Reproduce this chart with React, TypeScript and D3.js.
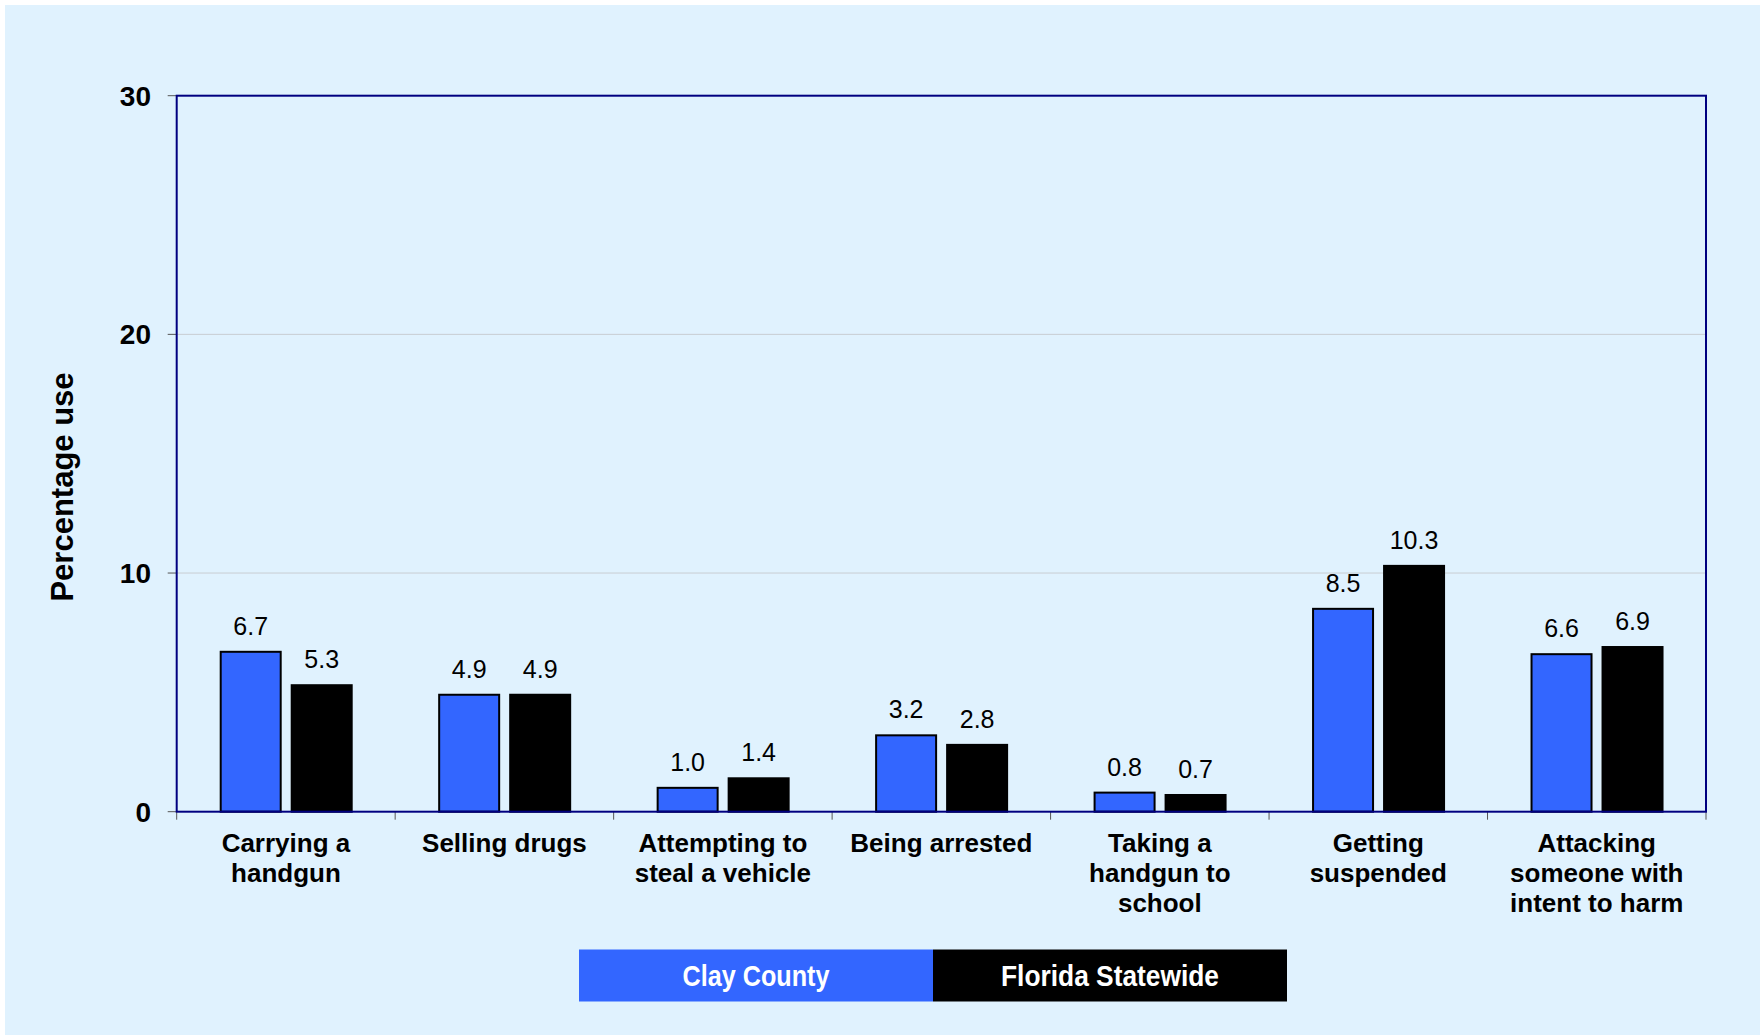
// App.tsx
import React, { useEffect, useRef } from 'react';
import * as d3 from 'd3';

const categories = [
  'Carrying a handgun',
  'Selling drugs',
  'Attempting to steal a vehicle',
  'Being arrested',
  'Taking a handgun to school',
  'Getting suspended',
  'Attacking someone with intent to harm',
];

// wrapped the way the original axis breaks them
const categoryLines = [
  ['Carrying a', 'handgun'],
  ['Selling drugs'],
  ['Attempting to', 'steal a vehicle'],
  ['Being arrested'],
  ['Taking a', 'handgun to', 'school'],
  ['Getting', 'suspended'],
  ['Attacking', 'someone with', 'intent to harm'],
];

const seriesNames = ['Clay County', 'Florida Statewide'];
const clayCounty = [6.7, 4.9, 1.0, 3.2, 0.8, 8.5, 6.6];
const floridaStatewide = [5.3, 4.9, 1.4, 2.8, 0.7, 10.3, 6.9];
const yTicks = [0, 10, 20, 30];

const seriesColors = ['#3366FF', '#000000'];
const FONT = '"Liberation Sans", Arial, sans-serif';

const Chart = () => {
  const ref = useRef<SVGSVGElement>(null);

  useEffect(() => {
    const svg = d3.select(ref.current);
    svg.selectAll('*').remove();

    const width = 1760;
    const height = 1035;
    const left = 176.7, right = 1706, top = 95.7, bottom = 811.7;

    svg.attr('width', width).attr('height', height);

    // background panel
    svg.append('rect')
      .attr('x', 5).attr('y', 5)
      .attr('width', width - 5).attr('height', height - 5)
      .attr('fill', '#E0F2FE');

    const x = d3.scaleBand<string>()
      .domain(categories)
      .range([left, right])
      .paddingInner(0)
      .paddingOuter(0);

    const xSub = d3.scaleBand<string>()
      .domain(seriesNames)
      .range([44, 175])
      .paddingInner(0.155)
      .paddingOuter(0);

    const y = d3.scaleLinear().domain([0, 30]).range([bottom, top]);

    // gridlines
    svg.append('g')
      .selectAll('line')
      .data(yTicks.filter(t => t > 0 && t < 30))
      .enter()
      .append('line')
      .attr('x1', left).attr('x2', right)
      .attr('y1', d => y(d)).attr('y2', d => y(d))
      .attr('stroke', '#C8CDD2')
      .attr('stroke-width', 1);

    // y ticks + labels
    const yAxis = svg.append('g');
    yAxis.selectAll('line')
      .data(yTicks)
      .enter()
      .append('line')
      .attr('x1', left - 9).attr('x2', left)
      .attr('y1', d => y(d)).attr('y2', d => y(d))
      .attr('stroke', '#555')
      .attr('stroke-width', 1);
    yAxis.selectAll('text')
      .data(yTicks)
      .enter()
      .append('text')
      .attr('x', 151)
      .attr('y', d => y(d) + 10)
      .attr('text-anchor', 'end')
      .attr('font-family', FONT)
      .attr('font-weight', 'bold')
      .attr('font-size', 28)
      .attr('fill', '#000')
      .text(d => d);

    // x ticks
    const xTickPos = categories.map(c => x(c) as number).concat([right]);
    svg.append('g')
      .selectAll('line')
      .data(xTickPos)
      .enter()
      .append('line')
      .attr('x1', d => d).attr('x2', d => d)
      .attr('y1', bottom).attr('y2', bottom + 8)
      .attr('stroke', '#555')
      .attr('stroke-width', 1);

    // bars
    const rows = categories.map((c, i) => ({
      category: c,
      values: [clayCounty[i], floridaStatewide[i]],
    }));

    const groups = svg.append('g')
      .selectAll('g')
      .data(rows)
      .enter()
      .append('g')
      .attr('transform', d => `translate(${x(d.category)},0)`);

    groups.selectAll('rect')
      .data(d => d.values.map((v, j) => ({ name: seriesNames[j], value: v, j })))
      .enter()
      .append('rect')
      .attr('x', d => xSub(d.name) as number)
      .attr('y', d => y(d.value))
      .attr('width', xSub.bandwidth())
      .attr('height', d => bottom - y(d.value))
      .attr('fill', d => seriesColors[d.j])
      .attr('stroke', '#000')
      .attr('stroke-width', 2);

    groups.selectAll('text')
      .data(d => d.values.map((v, j) => ({ name: seriesNames[j], value: v })))
      .enter()
      .append('text')
      .attr('x', d => (xSub(d.name) as number) + xSub.bandwidth() / 2)
      .attr('y', d => y(d.value) - 17)
      .attr('text-anchor', 'middle')
      .attr('font-family', FONT)
      .attr('font-size', 25)
      .attr('fill', '#000')
      .text(d => d.value.toFixed(1));

    // plot frame
    svg.append('rect')
      .attr('x', left).attr('y', top)
      .attr('width', right - left).attr('height', bottom - top)
      .attr('fill', 'none')
      .attr('stroke', '#000080')
      .attr('stroke-width', 2);

    // category labels
    const labels = svg.append('g')
      .selectAll('text')
      .data(categories)
      .enter()
      .append('text')
      .attr('x', d => (x(d) as number) + x.bandwidth() / 2)
      .attr('y', 852)
      .attr('text-anchor', 'middle')
      .attr('font-family', FONT)
      .attr('font-weight', 'bold')
      .attr('font-size', 26)
      .attr('fill', '#000');
    labels.each(function (d, i) {
      const t = d3.select(this);
      const cx = (x(d) as number) + x.bandwidth() / 2;
      categoryLines[i].forEach((line, k) => {
        t.append('tspan').attr('x', cx).attr('dy', k === 0 ? 0 : 30).text(line);
      });
    });

    // y axis title
    svg.append('text')
      .attr('transform', 'translate(73,487) rotate(-90)')
      .attr('text-anchor', 'middle')
      .attr('font-family', FONT)
      .attr('font-weight', 'bold')
      .attr('font-size', 31)
      .attr('fill', '#000')
      .text('Percentage use');

    // legend
    const legendX = d3.scaleBand<string>().domain(seriesNames).range([579, 1287]);
    const textLens = [147, 218];
    const legend = svg.append('g')
      .selectAll('g')
      .data(seriesNames)
      .enter()
      .append('g');
    legend.append('rect')
      .attr('x', d => legendX(d) as number)
      .attr('y', 949.5)
      .attr('width', legendX.bandwidth())
      .attr('height', 52)
      .attr('fill', (d, i) => seriesColors[i]);
    legend.append('text')
      .attr('x', d => (legendX(d) as number) + legendX.bandwidth() / 2)
      .attr('y', 985.5)
      .attr('text-anchor', 'middle')
      .attr('font-family', '"Liberation Sans Narrow", "Arial Narrow", ' + FONT)
      .attr('font-weight', 'bold')
      .attr('font-size', 30)
      .attr('textLength', (d, i) => textLens[i])
      .attr('lengthAdjust', 'spacingAndGlyphs')
      .attr('fill', '#fff')
      .text(d => d);
  }, []);

  return <svg ref={ref} style={{ position: 'absolute', left: 0, top: 0, display: 'block' }}></svg>;
};

export default function App() {
  return <Chart />;
}
